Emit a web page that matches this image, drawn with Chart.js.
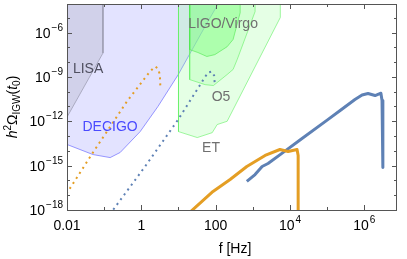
<!DOCTYPE html>
<html>
<head>
<meta charset="utf-8">
<script src="https://cdn.jsdelivr.net/npm/chart.js@4.4.1/dist/chart.umd.min.js"></script>
<style>
    html, body { margin: 0; padding: 0; background: #fff; }
    canvas { display: block; }
</style>
</head>
<body>
<canvas id="gwChart" width="407" height="259"></canvas>
<script>
// Detector sensitivity regions (f in Hz, h^2 Omega)
const lisaF = [2.5e-3, 0.093, 0.093, 0.01, 2.5e-3];
const lisaOmega = [1e-2, 1e-2, 4.1e-8, 1.9e-12, 4e-15];

const decigoF = [2.5e-3, 204, 52, 9.8, 2.8, 0.93, 0.27, 0.145, 0.05, 0.01, 2.5e-3];
const decigoOmega = [1e-3, 1e-3, 2.6e-6, 1.4e-9, 1e-11, 2e-13, 7.8e-15, 3.5e-15, 5.6e-15, 2.7e-14, 6e-14];

const etF = [10, 10, 32, 81, 110, 204, 5500, 5500];
const etOmega = [1e-3, 2e-13, 7.9e-14, 1.7e-13, 6e-13, 1e-12, 1.05e-5, 1e-3];

const o5F = [20, 20, 52, 87, 204, 295, 380, 1150, 1150];
const o5Omega = [1e-3, 6.6e-10, 3e-10, 2.6e-10, 1.45e-9, 3.2e-9, 1.5e-8, 2.6e-5, 1e-3];

const ligoF = [20, 20, 33, 58, 95, 204, 295, 457, 457];
const ligoOmega = [1e-3, 7e-8, 4.5e-8, 2.4e-8, 3.2e-8, 1.1e-7, 3.4e-7, 2.2e-5, 1e-3];

// Induced GW spectra
const orangeDotF = [0.0079, 0.05, 0.195, 0.41, 0.91, 1.7, 2.35, 2.8, 3.15, 3.25];
const orangeDotOmega = [5.6e-18, 7.8e-15, 1.3e-12, 2.2e-11, 3e-10, 2.3e-9, 5e-9, 3.7e-9, 1.45e-9, 2.2e-10];

const blueDotF = [0.141, 1.26, 9.8, 62, 79, 91, 95];
const blueDotOmega = [5e-19, 8.7e-16, 1.3e-12, 2e-9, 2.3e-9, 1.23e-9, 3e-10];

const blueF = [690, 1150, 1780, 2570, 6450, 18600, 1e5, 2.24e5, 5.6e5, 8.7e5, 1.26e6, 1.95e6, 2.8e6, 3.0e6, 3.16e6];
const blueOmega = [8.5e-17, 2.5e-16, 8.7e-16, 1.4e-15, 7.6e-15, 5.4e-14, 1.2e-12, 5.4e-12, 2.95e-11, 6e-11, 7.6e-11, 5.5e-11, 7.9e-11, 2.5e-11, 7.4e-16];

const orangeF = [21.4, 85, 245, 690, 2140, 5370, 8900, 15500, 16600, 16600];
const orangeOmega = [7.9e-19, 1.8e-17, 1.15e-16, 8.7e-16, 4.9e-15, 1.23e-14, 9.1e-15, 1.23e-14, 4.9e-15, 3e-19];

// Region labels
const regionNames = ['LISA', 'DECIGO', 'LIGO/Virgo', 'O5', 'ET'];
const regionLabelF = [0.037, 0.144, 158, 139, 75];
const regionLabelOmega = [3.2e-9, 3.8e-13, 3.5e-6, 4.1e-11, 1.45e-14];

// Tick labels
const xTickValues = [0.01, 1, 100, 1e4, 1e6];
const xTickBase = ['0.01', '1', '100', '10', '10'];
const xTickExp = ['', '', '', '4', '6'];
const yTickValues = [1e-18, 1e-15, 1e-12, 1e-9, 1e-6];
const yTickExp = ['\u221218', '\u221215', '\u221212', '\u22129', '\u22126'];

const xTitle = 'f [Hz]';
// y title pieces: text, style ('n' normal, 'i' italic, 'sup', 'sub')
const yTitleParts = [['h', 'i'], ['2', 'sup'], ['\u03a9', 'n'], ['IGW', 'sub'], ['(', 'n'], ['t', 'i'], ['0', 'sub'], [')', 'n']];

const FAMILY = '"Liberation Sans", Arial, sans-serif';
const BLUE = 'rgb(94, 129, 181)';
const ORANGE = 'rgb(228, 158, 36)';

function toPoints(xs, ys) {
    return xs.map((v, i) => ({ x: v, y: ys[i] }));
}

function region(xs, ys, fill, border) {
    return {
        data: toPoints(xs, ys),
        showLine: true,
        fill: 'shape',
        backgroundColor: fill,
        borderColor: border,
        borderWidth: 1,
        pointRadius: 0,
        tension: 0
    };
}

function curve(xs, ys, color, width, dash) {
    return {
        data: toPoints(xs, ys),
        showLine: true,
        fill: false,
        borderColor: color,
        borderWidth: width,
        borderDash: dash || [],
        borderJoinStyle: 'round',
        pointRadius: 0,
        tension: 0
    };
}

function drawPow(ctx, base, exp, x, baseline, align) {
    ctx.font = `14px ${FAMILY}`;
    const wb = ctx.measureText(base).width;
    ctx.font = `10px ${FAMILY}`;
    const we = exp ? ctx.measureText(exp).width + 1 : 0;
    const total = wb + we;
    const left = align === 'right' ? x - total : x - total / 2;
    ctx.textAlign = 'left';
    ctx.textBaseline = 'alphabetic';
    ctx.font = `14px ${FAMILY}`;
    ctx.fillText(base, left, baseline);
    if (exp) {
        ctx.font = `10px ${FAMILY}`;
        ctx.fillText(exp, left + wb + 1, baseline - 7);
    }
}

const framePlugin = {
    id: 'frame',
    afterDatasetsDraw(chart) {
        const { ctx, scales: { x, y } } = chart;
        ctx.save();
        ctx.font = `14px ${FAMILY}`;
        ctx.textAlign = 'center';
        ctx.textBaseline = 'middle';
        const colors = ['#505060', '#4a4aff', '#707070', '#707070', '#707070'];
        regionNames.forEach((t, i) => {
            ctx.fillStyle = colors[i];
            ctx.fillText(t, x.getPixelForValue(regionLabelF[i]), y.getPixelForValue(regionLabelOmega[i]));
        });
        ctx.restore();
    },
    afterDraw(chart) {
        const { ctx, chartArea: a, scales: { x, y } } = chart;
        ctx.save();
        ctx.strokeStyle = '#555';
        ctx.lineWidth = 1;
        ctx.strokeRect(a.left + 0.5, a.top + 0.5, a.right - a.left - 1, a.bottom - a.top);

        // decade ticks on all four sides
        ctx.beginPath();
        for (let e = -2; e <= 6; e++) {
            const px = Math.round(x.getPixelForValue(Math.pow(10, e))) + 0.5;
            const len = e % 2 === 0 ? 5 : 3;
            ctx.moveTo(px, a.bottom); ctx.lineTo(px, a.bottom - len);
            ctx.moveTo(px, a.top); ctx.lineTo(px, a.top + len);
        }
        for (let e = -18; e <= -5; e++) {
            const py = Math.round(y.getPixelForValue(Math.pow(10, e))) + 0.5;
            const len = e % 3 === 0 ? 5 : 3;
            ctx.moveTo(a.left, py); ctx.lineTo(a.left + len, py);
            ctx.moveTo(a.right, py); ctx.lineTo(a.right - len, py);
        }
        ctx.stroke();

        // tick labels
        ctx.fillStyle = '#000';
        xTickValues.forEach((v, i) => {
            drawPow(ctx, xTickBase[i], xTickExp[i], x.getPixelForValue(v), a.bottom + 20, 'center');
        });
        yTickValues.forEach((v, i) => {
            drawPow(ctx, '10', yTickExp[i], a.left - 4, y.getPixelForValue(v) + 5, 'right');
        });

        // x title
        ctx.font = `14px ${FAMILY}`;
        ctx.textAlign = 'center';
        ctx.textBaseline = 'alphabetic';
        ctx.fillText(xTitle, (a.left + a.right) / 2 + 3, 253);

        // y title with sub/superscripts
        const fontFor = s => s === 'i' ? `italic 14px ${FAMILY}` : (s === 'n' ? `14px ${FAMILY}` : `10px ${FAMILY}`);
        let total = 0;
        yTitleParts.forEach(([t, s]) => { ctx.font = fontFor(s); total += ctx.measureText(t).width; });
        ctx.translate(17, (a.top + a.bottom) / 2);
        ctx.rotate(-Math.PI / 2);
        ctx.textAlign = 'left';
        let cx = -total / 2;
        yTitleParts.forEach(([t, s]) => {
            ctx.font = fontFor(s);
            const dy = s === 'sup' ? -6 : (s === 'sub' ? 3 : 0);
            ctx.fillText(t, cx, dy);
            cx += ctx.measureText(t).width;
        });
        ctx.restore();
    }
};

const ctx = document.getElementById('gwChart').getContext('2d');
new Chart(ctx, {
    type: 'scatter',
    data: {
        datasets: [
            curve(orangeF, orangeOmega, ORANGE, 3),
            curve(blueF, blueOmega, BLUE, 3),
            curve(blueDotF, blueDotOmega, BLUE, 2, [2, 4]),
            curve(orangeDotF, orangeDotOmega, ORANGE, 2, [2, 4]),
            region(ligoF, ligoOmega, 'rgba(120, 255, 120, 0.4)', 'rgba(80, 230, 80, 0.6)'),
            region(o5F, o5Omega, 'rgba(150, 255, 150, 0.25)', 'rgba(100, 240, 100, 0.6)'),
            region(etF, etOmega, 'rgba(150, 255, 150, 0.25)', 'rgba(100, 240, 100, 0.6)'),
            region(lisaF, lisaOmega, 'rgba(170, 170, 185, 0.3)', 'rgba(140, 140, 160, 0.6)'),
            region(decigoF, decigoOmega, 'rgba(200, 200, 255, 0.5)', 'rgba(110, 110, 255, 0.7)')
        ]
    },
    options: {
        responsive: false,
        animation: false,
        layout: { padding: { left: 0, right: 10, top: 4, bottom: 0 } },
        plugins: {
            legend: { display: false },
            tooltip: { enabled: false }
        },
        scales: {
            x: {
                type: 'logarithmic',
                min: 0.01,
                max: Math.pow(10, 6.88),
                ticks: { display: false },
                grid: { display: false, drawTicks: false },
                border: { display: false },
                afterFit: s => { s.height = 49; }
            },
            y: {
                type: 'logarithmic',
                min: 1e-18,
                max: Math.pow(10, -4.07),
                ticks: { display: false },
                grid: { display: false, drawTicks: false },
                border: { display: false },
                afterFit: s => { s.width = 67; }
            }
        }
    },
    plugins: [framePlugin]
});
</script>
</body>
</html>
